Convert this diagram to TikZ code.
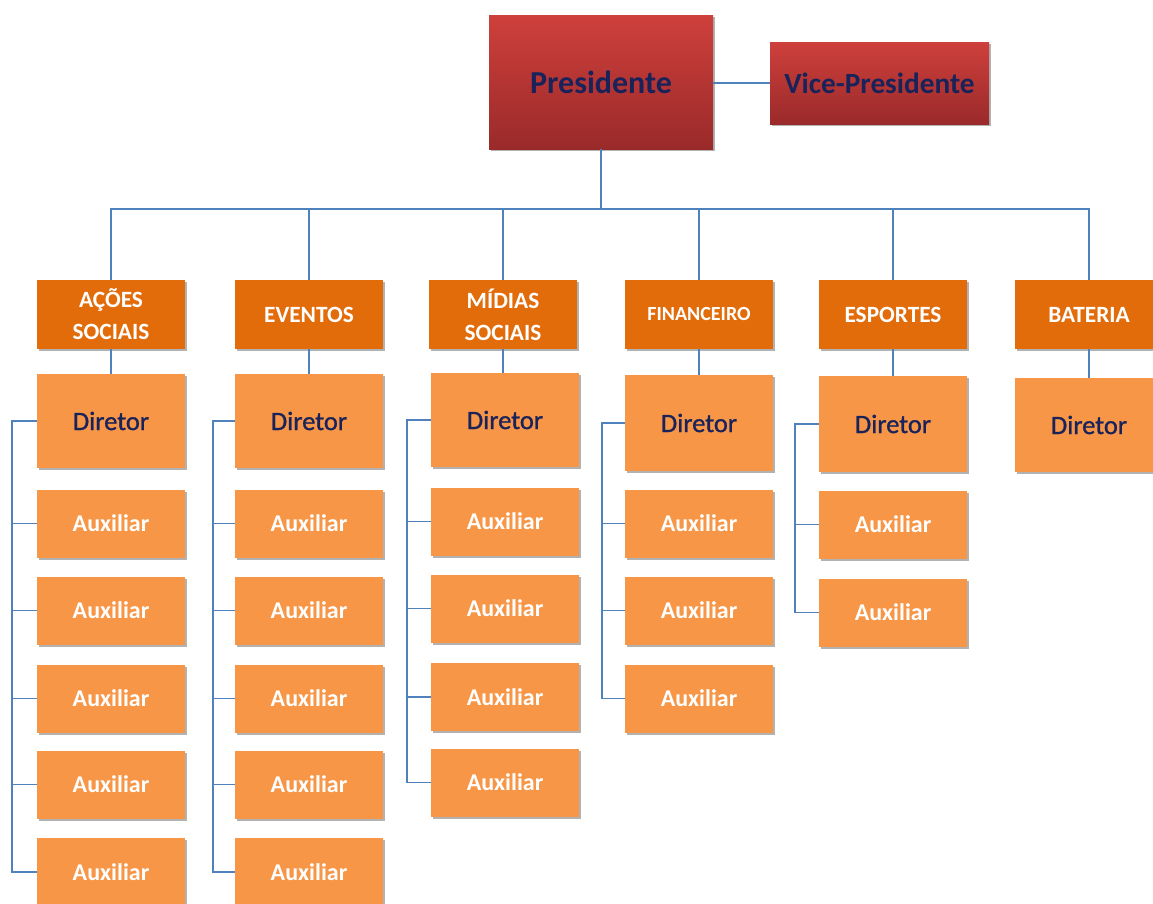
\documentclass[tikz,border=0pt]{standalone}
\usepackage{fontspec}
\setmainfont{Carlito}
\newfontfamily\dirfont[FakeBold=1]{Carlito}
\usetikzlibrary{shadows}
\definecolor{navy}{HTML}{19235A}
\definecolor{deptor}{HTML}{E36C0A}
\definecolor{lightor}{HTML}{F79646}
\definecolor{linec}{HTML}{4F81BD}
\definecolor{redtop}{HTML}{CE403C}
\definecolor{redbot}{HTML}{9A2A2A}
\begin{document}
\begin{tikzpicture}[x=1pt,y=-1pt,
  box/.style={rectangle, inner sep=0pt, align=center,
    drop shadow={shadow xshift=2pt, shadow yshift=-2pt, opacity=0.3, fill=black}},
  redbox/.style={box, top color=redtop, bottom color=redbot, text=navy},
  dept/.style={box, fill=deptor, text=white, minimum width=148pt, minimum height=69pt,
    font=\fontsize{23.3}{32}\selectfont\bfseries},
  dirbox/.style={box, fill=lightor, text=navy, minimum width=148pt,
    font=\fontsize{26.5}{30}\dirfont\selectfont},
  aux/.style={box, fill=lightor, text=white, minimum width=148pt, minimum height=68pt,
    font=\fontsize{24}{28}\selectfont\bfseries},
  conn/.style={draw=linec, line width=1.5pt}]
\useasboundingbox (0,0) rectangle (1153,903);
\clip (0,0) rectangle (1153,903);
\fill[white] (0,0) rectangle (1153,903);

% top
\node[redbox, minimum width=224pt, minimum height=134pt,
  font=\fontsize{32}{36}\selectfont\bfseries] (pres) at (601,82) {Presidente};
\node[redbox, minimum width=219pt, minimum height=82pt,
  font=\fontsize{29.3}{34}\selectfont\bfseries] (vp) at (879.5,83) {Vice-Presidente};
\draw[conn] (pres.east |- vp.west) -- (vp.west);

% departments
\node[dept] (d1) at (111,314.5) {AÇÕES\\SOCIAIS};
\node[dept] (d2) at (309,314.5) {EVENTOS};
\node[dept] (d3) at (503,314.5) {MÍDIAS\\SOCIAIS};
\node[dept, font=\fontsize{20}{24}\selectfont\bfseries] (d4) at (699,314.5) {FINANCEIRO};
\node[dept] (d5) at (893,314.5) {ESPORTES};
\node[dept] (d6) at (1089,314.5) {BATERIA};

\coordinate (bar) at (600,209);
\draw[conn] (pres.south) -- (pres.south |- bar);
\draw[conn] (d1.north) -- (d1.north |- bar) -- (d6.north |- bar) -- (d6.north);
\foreach \k in {2,3,4,5} \draw[conn] (d\k.north) -- (d\k.north |- bar);

% directors
\node[dirbox, minimum height=94pt] (r1) at (111,421) {Diretor};
\node[dirbox, minimum height=94pt] (r2) at (309,421) {Diretor};
\node[dirbox, minimum height=94pt] (r3) at (505,420) {Diretor};
\node[dirbox, minimum height=96pt] (r4) at (699,423) {Diretor};
\node[dirbox, minimum height=96pt] (r5) at (893,424) {Diretor};
\node[dirbox, minimum height=94pt] (r6) at (1089,425) {Diretor};
\foreach \k in {1,...,6} \draw[conn] (d\k.south) -- (d\k.south |- r\k.north);

% auxiliaries
\foreach \i/\y in {1/523.5,2/610.5,3/698.5,4/784.5,5/872}
  \node[aux] (a1\i) at (111,\y) {Auxiliar};
\foreach \i/\y in {1/523.5,2/610.5,3/698.5,4/784.5,5/872}
  \node[aux] (a2\i) at (309,\y) {Auxiliar};
\foreach \i/\y in {1/521.5,2/608.5,3/697,4/782.5}
  \node[aux] (a3\i) at (505,\y) {Auxiliar};
\foreach \i/\y in {1/523.5,2/610.5,3/698.5}
  \node[aux] (a4\i) at (699,\y) {Auxiliar};
\foreach \i/\y in {1/524.5,2/612.5}
  \node[aux] (a5\i) at (893,\y) {Auxiliar};

% brackets
\draw[conn] (r1.west) -- ++(-25,0) coordinate (b1) |- (a15.west);
\foreach \i in {1,...,4} \draw[conn] (a1\i.west) -- (a1\i.west -| b1);
\draw[conn] (r2.west) -- ++(-22,0) coordinate (b2) |- (a25.west);
\foreach \i in {1,...,4} \draw[conn] (a2\i.west) -- (a2\i.west -| b2);
\draw[conn] (r3.west) -- ++(-24,0) coordinate (b3) |- (a34.west);
\foreach \i in {1,...,3} \draw[conn] (a3\i.west) -- (a3\i.west -| b3);
\draw[conn] (r4.west) -- ++(-23,0) coordinate (b4) |- (a43.west);
\foreach \i in {1,...,2} \draw[conn] (a4\i.west) -- (a4\i.west -| b4);
\draw[conn] (r5.west) -- ++(-24,0) coordinate (b5) |- (a52.west);
\draw[conn] (a51.west) -- (a51.west -| b5);
\end{tikzpicture}
\end{document}
